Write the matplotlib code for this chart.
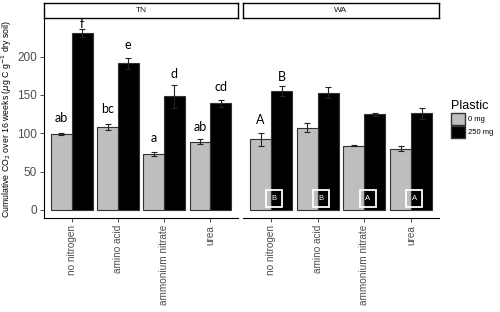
import matplotlib
matplotlib.use("Agg")
import matplotlib.pyplot as plt
from matplotlib.patches import Patch, Rectangle
import numpy as np

plt.rcParams['font.family'] = ['Liberation Sans', 'DejaVu Sans']

nitrogen = ['no nitrogen', 'amino acid', 'ammonium nitrate', 'urea']
sites = ['TN', 'WA']

# cumulative CO2, 0 mg and 250 mg plastic
tn_0 = [99, 108, 73, 89]
tn_0_se = [1, 4, 3, 3]
tn_250 = [231, 191, 148, 139]
tn_250_se = [5, 7, 15, 5]
wa_0 = [92, 107, 84, 80]
wa_0_se = [8, 6, 1, 3]
wa_250 = [155, 153, 125, 126]
wa_250_se = [7, 7, 2, 7]

# letters over bars (0 mg, 250 mg) and their heights
tn_letters_0 = ['ab', 'bc', 'a', 'ab']
tn_letters_250 = ['f', 'e', 'd', 'cd']
tn_lab_0 = [115, 127, 89, 103]
tn_lab_250 = [237, 210, 172, 155]
wa_letters_0 = ['A', '', '', '']
wa_letters_250 = ['B', '', '', '']
wa_lab_0 = [112, 0, 0, 0]
wa_lab_250 = [168, 0, 0, 0]
# boxed letters at bar base in WA panel
wa_box = ['B', 'B', 'A', 'A']

grey = '#BEBEBE'
W, H = 500, 312
fig = plt.figure(figsize=(5, 3.12), dpi=100)

def frac(x0, y0, x1, y1):
    return [x0 / W, 1 - y1 / H, (x1 - x0) / W, (y1 - y0) / H]

panels = [
    (sites[0], frac(44, 19, 238, 218), frac(44, 3, 238, 18), tn_0, tn_0_se, tn_250, tn_250_se,
     tn_letters_0, tn_letters_250, tn_lab_0, tn_lab_250, None),
    (sites[1], frac(243, 19, 439, 218), frac(243, 3, 439, 18), wa_0, wa_0_se, wa_250, wa_250_se,
     wa_letters_0, wa_letters_250, wa_lab_0, wa_lab_250, wa_box),
]

x = np.arange(1, len(nitrogen) + 1)
bw = 0.45
axes = []
for site, rect, srect, v0, e0, v1, e1, l0, l1, h0, h1, boxes in panels:
    ax = fig.add_axes(rect)
    axes.append(ax)
    ax.bar(x - bw / 2, v0, bw, color=grey, edgecolor='#333333', linewidth=0.8)
    ax.bar(x + bw / 2, v1, bw, color='black', edgecolor='#333333', linewidth=0.8)
    ax.errorbar(x - bw / 2, v0, yerr=e0, fmt='none', ecolor='#222222', elinewidth=0.8, capsize=2.5, capthick=0.8)
    ax.errorbar(x + bw / 2, v1, yerr=e1, fmt='none', ecolor='#222222', elinewidth=0.8, capsize=2.5, capthick=0.8)
    for i in range(len(nitrogen)):
        if l0[i]:
            ax.text(x[i] - bw / 2, h0[i], l0[i], ha='center', va='baseline', fontsize=9,
                    family=['Lato', 'DejaVu Sans'])
        if l1[i]:
            ax.text(x[i] + bw / 2, h1[i], l1[i], ha='center', va='baseline', fontsize=9,
                    family=['Lato', 'DejaVu Sans'])
    if boxes:
        for i, b in enumerate(boxes):
            cx = x[i] + 0.07
            ax.add_patch(Rectangle((cx - 0.17, 4), 0.34, 22, fill=False, edgecolor='white', linewidth=1.3))
            ax.text(cx, 15, b, color='white', ha='center', va='center', fontsize=5.5)
    ax.set_xlim(0.4, 4.6)
    ax.set_ylim(-10.5, 249)
    ax.set_xticks(x)
    ax.set_xticklabels(nitrogen, rotation=90, fontsize=7.2, color='#4D4D4D')
    ax.set_yticks([0, 50, 100, 150, 200])
    ax.tick_params(axis='both', length=3, color='#333333', width=0.6, pad=2)
    ax.tick_params(axis='y', labelsize=8.5, labelcolor='#4D4D4D')
    for s in ['top', 'right']:
        ax.spines[s].set_visible(False)
    ax.spines['bottom'].set_linewidth(0.8)
    ax.spines['left'].set_linewidth(0.8)

    sax = fig.add_axes(srect)
    sax.set_xticks([])
    sax.set_yticks([])
    for s in sax.spines.values():
        s.set_linewidth(1.0)
    sax.text(0.5, 0.5, site, ha='center', va='center', fontsize=6, color='#1A1A1A', transform=sax.transAxes)

axes[1].spines['left'].set_visible(False)
axes[1].tick_params(axis='y', left=False, labelleft=False)
axes[0].set_ylabel(r'Cumulative CO$_2$ over 16 weeks ($\mu$g C g$^{-1}$ dry soil)', fontsize=6.3)
axes[0].yaxis.set_label_coords(-0.155, 0.5)

handles = [Patch(facecolor=grey, edgecolor='#333333', label='0 mg'),
           Patch(facecolor='black', edgecolor='#333333', label='250 mg')]
leg = fig.legend(handles=handles, title='Plastic', loc='upper left', bbox_to_anchor=(0.895, 0.69),
                 frameon=False, fontsize=5.5, title_fontsize=9, handlelength=1.9, handleheight=2.0,
                 handletextpad=0.4, labelspacing=0.15, borderaxespad=0)
leg._legend_box.align = 'left'

fig.savefig('out.png', dpi=100)
